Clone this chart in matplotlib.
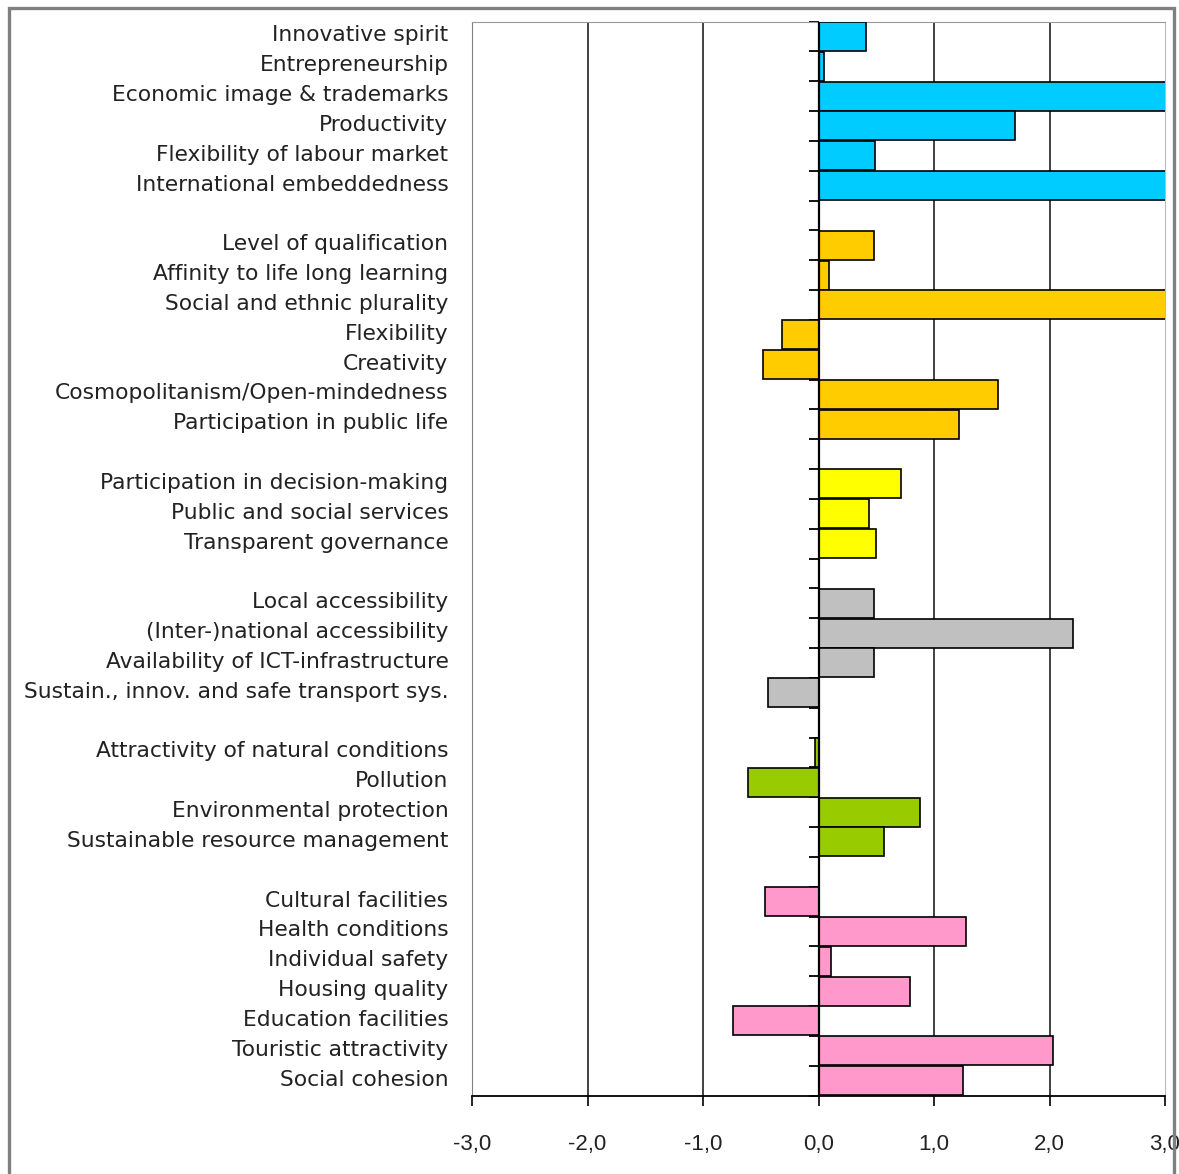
import numpy as np
import matplotlib.pyplot as plt
from matplotlib.patches import Rectangle
from matplotlib.transforms import ScaledTranslation

plt.rcParams['font.family'] = ['DejaVu Sans']

# groups of indicators, top to bottom
econ_labels = ['Innovative spirit', 'Entrepreneurship', 'Economic image & trademarks',
               'Productivity', 'Flexibility of labour market', 'International embeddedness']
econ_values = [0.41, 0.05, 3.3, 1.70, 0.49, 3.3]

people_labels = ['Level of qualification', 'Affinity to life long learning',
                 'Social and ethnic plurality', 'Flexibility', 'Creativity',
                 'Cosmopolitanism/Open-mindedness', 'Participation in public life']
people_values = [0.48, 0.09, 3.3, -0.32, -0.48, 1.55, 1.22]

gov_labels = ['Participation in decision-making', 'Public and social services',
              'Transparent governance']
gov_values = [0.71, 0.44, 0.50]

mob_labels = ['Local accessibility', '(Inter-)national accessibility',
              'Availability of ICT-infrastructure', 'Sustain., innov. and safe transport sys.']
mob_values = [0.48, 2.20, 0.48, -0.44]

env_labels = ['Attractivity of natural conditions', 'Pollution',
              'Environmental protection', 'Sustainable resource management']
env_values = [-0.03, -0.61, 0.88, 0.57]

living_labels = ['Cultural facilities', 'Health conditions', 'Individual safety',
                 'Housing quality', 'Education facilities', 'Touristic attractivity',
                 'Social cohesion']
living_values = [-0.46, 1.28, 0.11, 0.79, -0.74, 2.03, 1.25]

groups = [
    (econ_labels, econ_values, '#00CCFF'),
    (people_labels, people_values, '#FFCC00'),
    (gov_labels, gov_values, '#FFFF00'),
    (mob_labels, mob_values, '#C0C0C0'),
    (env_labels, env_values, '#99CC00'),
    (living_labels, living_values, '#FF99CC'),
]

xticks = [-3, -2, -1, 0, 1, 2, 3]

W, H = 1179, 1174
fig = plt.figure(figsize=(W / 100, H / 100), dpi=100)
ax = fig.add_axes([472 / W, 1 - 1095.5 / H, 693 / W, (1095.5 - 21.5) / H])

# one slot per row, one empty slot between groups
pos = []
labels = []
slot = 0
for names, vals, color in groups:
    ys = np.arange(slot, slot + len(names))
    ax.barh(ys, vals, height=0.97, color=color, edgecolor='black',
            linewidth=1.2, zorder=3)
    pos.extend(ys)
    labels.extend(names)
    slot += len(names) + 1
nslots = slot - 1

ax.set_xlim(-3, 3)
ax.set_ylim(nslots - 0.5, -0.5)

ax.set_yticks(pos)
ax.set_yticklabels(labels, fontsize=15.7, color='#222222')
ax.tick_params(axis='y', length=0, pad=17)
# nudge row labels up a little
for t in ax.get_yticklabels():
    t.set_transform(t.get_transform() + ScaledTranslation(0, 3 / 100, fig.dpi_scale_trans))

ax.set_xticks(xticks)
ax.set_xticklabels([('%.1f' % v).replace('.', ',') for v in xticks], fontsize=16,
                   family='Liberation Sans', color='#222222')
ax.tick_params(axis='x', direction='out', length=7, width=1.2, pad=21)

for v in [-2, -1, 1, 2]:
    ax.axvline(v, color='#333333', lw=1.3, zorder=1)
ax.axvline(0, color='black', lw=1.6, zorder=4)

ax.spines['left'].set_color('#808080')
ax.spines['top'].set_color('#999999')
ax.spines['right'].set_color('#bbbbbb')
ax.spines['bottom'].set_color('black')
ax.spines['bottom'].set_linewidth(1.3)

# category boundary ticks along the zero axis
sec = ax.secondary_yaxis(0.5)
sec.set_alignment('left')
sec.set_yticks(np.arange(-0.5, nslots, 1.0))
sec.tick_params(direction='out', length=7, width=1.3, labelleft=False, labelright=False)
sec.spines['left'].set_visible(False)

# outer frame
fig.patches.append(Rectangle((9 / W, -0.1), (1174 - 9) / W, 1.1 - 8 / H,
                             transform=fig.transFigure, fill=False,
                             edgecolor='#808080', linewidth=2.4, zorder=10))

fig.savefig('out.png', dpi=100)
